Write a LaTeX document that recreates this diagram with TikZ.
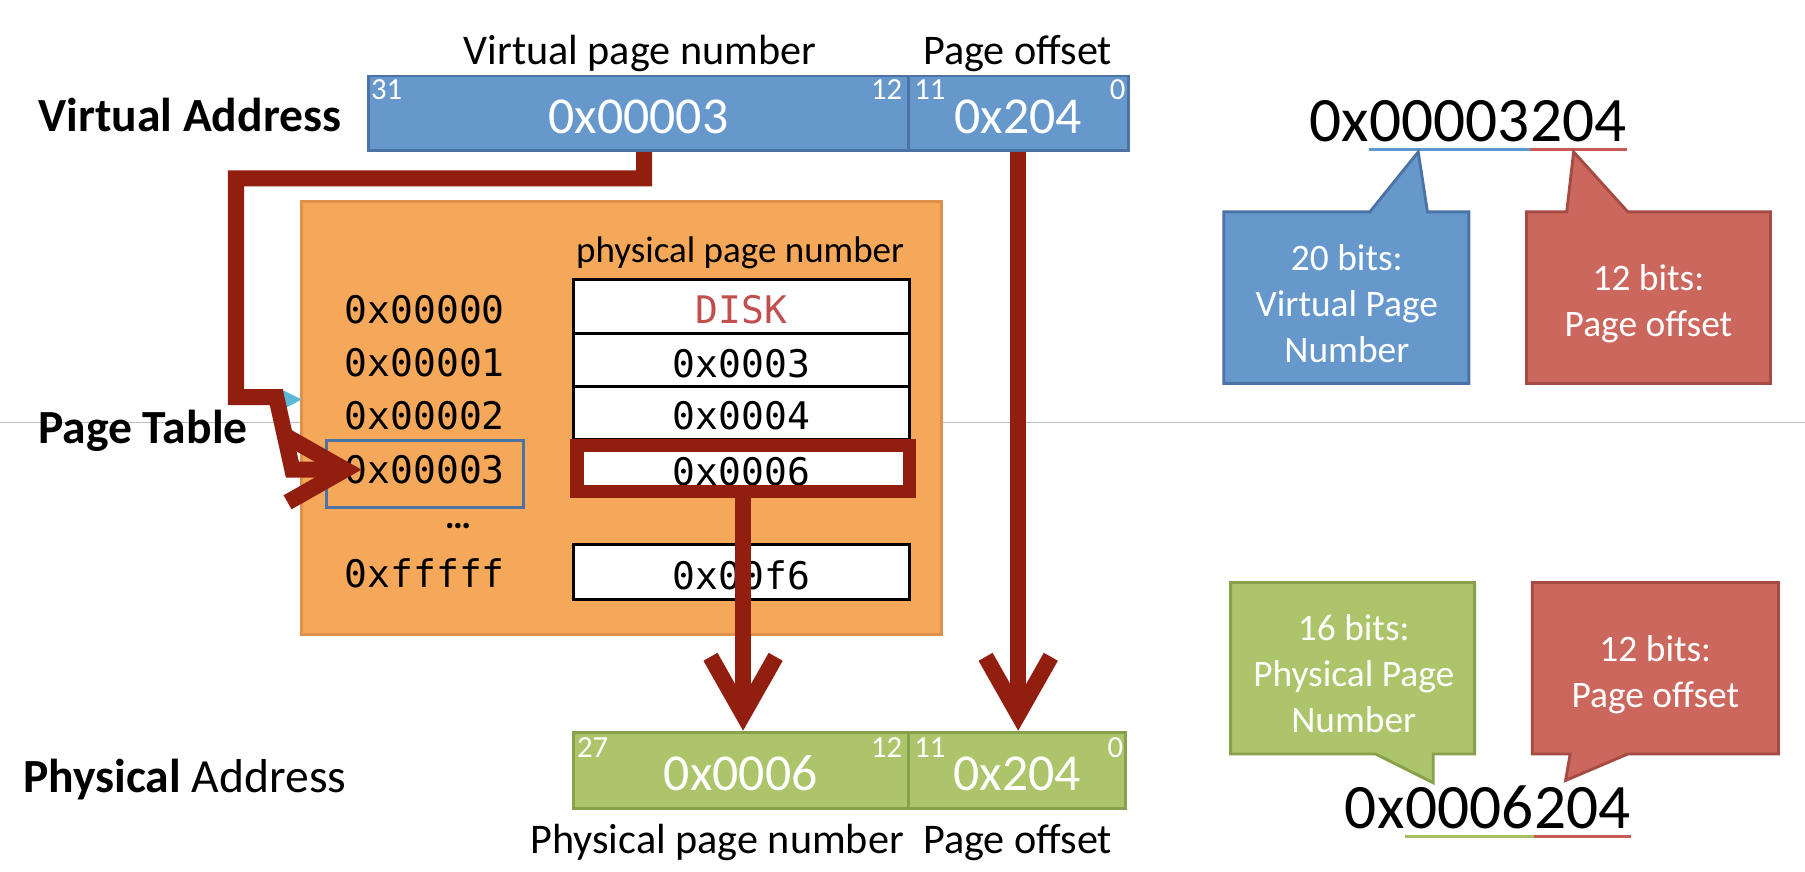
\documentclass[tikz,border=0pt]{standalone}
\usepackage{fontspec}
\setmainfont{Carlito}
\newfontfamily\monof{DejaVu Sans Mono}
\usetikzlibrary{fit,arrows.meta}
\definecolor{vblue}{RGB}{102,152,204}
\definecolor{vblueD}{RGB}{75,115,165}
\definecolor{ptor}{RGB}{245,168,90}
\definecolor{ptorD}{RGB}{222,145,75}
\definecolor{pgreen}{RGB}{172,196,106}
\definecolor{pgreenD}{RGB}{135,160,75}
\definecolor{cred}{RGB}{204,103,94}
\definecolor{credD}{RGB}{165,75,68}
\definecolor{arred}{RGB}{146,30,16}
\definecolor{diskc}{RGB}{192,80,77}
\definecolor{ulblue}{RGB}{100,150,210}
\definecolor{ulred}{RGB}{200,90,85}
\definecolor{ulgreen}{RGB}{165,190,95}
\definecolor{cyanart}{RGB}{90,185,215}
\definecolor{sepgray}{RGB}{190,190,190}
\begin{document}
\begin{tikzpicture}[x=0.6pt,y=-0.6pt,
  vfield/.style={draw=vblueD, fill=vblue, line width=1.5pt, inner sep=0pt},
  pfield/.style={draw=pgreenD, fill=pgreen, line width=1.5pt, inner sep=0pt},
  fieldtext/.style={text=white, font=\fontsize{27}{30}\selectfont, inner sep=0pt},
  bitnum/.style={text=white, font=\fontsize{16}{18}\selectfont, inner sep=0pt},
  caption/.style={font=\fontsize{22}{26}\selectfont, inner sep=0pt, anchor=base},
  sidelab/.style={font=\fontsize{24.8}{28}\selectfont, inner sep=0pt, anchor=base west},
  rowlab/.style={font=\monof\fontsize{19.8}{22}\selectfont, inner sep=0pt},
  cell/.style={draw=black, fill=white, line width=1.5pt, inner sep=0pt},
  celltext/.style={font=\monof\fontsize{19.8}{22}\selectfont, inner sep=0pt},
  wire/.style={draw=arred, line width=8.4pt, line join=miter, -{Straight Barb[length=30pt,width=34pt]}},
  bubble/.style 2 args={fill=#1, draw=#2, line width=1.5pt, line join=miter},
  callouttext/.style={text=white, align=center, font=\fontsize{19.5}{24}\selectfont, inner sep=0pt},
  bighex/.style={font=\fontsize{33}{36}\selectfont, inner sep=0pt, anchor=base west},
  ul/.style={line width=1.8pt},
  sep/.style={draw=sepgray, line width=0.9pt}
]
\useasboundingbox (0,0) rectangle (1568,757);
\fill[white] (0,0) rectangle (1568,757);

% separator line
\coordinate (gl) at (0,367);
\coordinate (gr) at (1568,367);
\draw[sep] (gl) -- (gr);

% page table
\node[fit={(262,175) (818,551)}, draw=ptorD, fill=ptor, line width=1.5pt, inner sep=0pt] (pt) {};
\node[font=\fontsize{19.3}{22}\selectfont, inner sep=0pt, anchor=base] (pph) at (643,228) {physical page number};
\node[cell, fit={(498,243) (790,290)}] (c0) {};
\node[cell, fit={(498,290) (790,336)}] (c1) {};
\node[cell, fit={(498,336) (790,382)}] (c2) {};
\node[cell, fit={(498,384) (790,430)}] (c3) {};
\node[cell, fit={(498,473) (790,521)}] (c4) {};
\node[celltext, text=diskc] (c0t) at ([yshift=-1.5pt]c0.center) {DISK};
\node[celltext] (c1t) at ([yshift=-1.5pt]c1.center) {0x0003};
\node[celltext] (c2t) at ([yshift=-1.5pt]c2.center) {0x0004};
\node[celltext] (c3t) at ([yshift=-1.5pt]c3.center) {0x0006};
\node[celltext] (c4t) at ([yshift=-1.5pt]c4.center) {0x00f6};
\node[rowlab] (l0) at (369,269) {0x00000};
\node[rowlab] (l1) at (369,315) {0x00001};
\node[rowlab] (l2) at (369,361) {0x00002};
\node[rowlab] (l3) at (369,408) {0x00003};
\node[font=\fontsize{19.3}{22}\selectfont\bfseries, inner sep=0pt, anchor=base] (ldots) at (398,459) {…};
\node[rowlab] (l4) at (369,498) {0xfffff};
\node[fit={(284,383) (455,441)}, draw=vblueD, line width=1.6pt, inner sep=0pt] (sel) {};

% virtual address
\node[vfield, fit={(320,66) (789,131)}] (vpn) {};
\node[vfield, fit={(789,66) (980,131)}] (voff) {};
\node[fieldtext] (vpnt) at ([yshift=-1.8pt]vpn.center) {0x00003};
\node[fieldtext] (vofft) at ([yshift=-1.8pt]voff.center) {0x204};
\node[bitnum, anchor=base west] (v31) at (322,86) {31};
\node[bitnum, anchor=base east] (v12) at (784,86) {12};
\node[bitnum, anchor=base west] (v11) at (794,86) {11};
\node[bitnum, anchor=base east] (v0) at (978,86) {0};
\node[caption] (cvpn) at (556,56) {Virtual page number};
\node[caption] (cvoff) at (884,56) {Page offset};

% physical address
\node[pfield, fit={(498,636) (789,702)}] (ppn) {};
\node[pfield, fit={(789,636) (978,702)}] (poff) {};
\node[fieldtext] (ppnt) at ([yshift=-1.8pt]ppn.center) {0x0006};
\node[fieldtext] (pofft) at ([yshift=-1.8pt]poff.center) {0x204};
\node[bitnum, anchor=base west] (p27) at (501,658) {27};
\node[bitnum, anchor=base east] (p12) at (784,658) {12};
\node[bitnum, anchor=base west] (p11) at (794,658) {11};
\node[bitnum, anchor=base east] (p0) at (976,658) {0};
\node[caption] (cppn) at (623,741) {Physical page number};
\node[caption] (cpoff) at (884,741) {Page offset};

% side labels
\node[sidelab] (lva) at (33,114) {\bfseries Virtual Address};
\node[sidelab] (lpt) at (33,385) {\bfseries Page Table};
\node[sidelab] (lpa) at (20,688) {\textbf{Physical} Address};

% small artifact triangle
\fill[cyanart] (244,338) -- (262,347) -- (247,355) -- cycle;

% highlight and arrows
\node[fit={(501,387) (790,427)}, draw=arred, line width=7.2pt, inner sep=0pt] (hl) {};
\coordinate (b1) at (205,155);
\coordinate (b2) at (240,345);
\coordinate (b3) at (254,408);
\coordinate (t1) at (314,408);
\draw[wire] ([xshift=3pt]vpn.south) |- (b1) |- (b2) -- (b3) -- (t1);
\draw[wire] (hl.south) -- (hl.south |- ppn.north);
\draw[wire] (voff.south) -- (voff.south |- poff.north);

% right side: virtual
\node[bighex] (h1a) at (1137,123) {0x};
\node[bighex] (h1b) at (h1a.base east) {00003};
\node[bighex] (h1c) at (h1b.base east) {204};
\draw[ul, ulblue] ([yshift=-4pt]h1b.base west) -- ([yshift=-4pt]h1b.base east);
\draw[ul, ulred] ([yshift=-4pt]h1c.base west) -- ([yshift=-4pt]h1c.base east);
\draw[bubble={vblue}{vblueD}] (1063,184) -- (1190,184) -- (1232,132) -- (1240,184) -- (1276,184) -- (1276,333) -- (1063,333) -- cycle;
\node[callouttext] (tb1) at (1170,264) {20 bits:\\Virtual Page\\Number};
\draw[bubble={cred}{credD}] (1326,184) -- (1361,184) -- (1367,132) -- (1414,184) -- (1538,184) -- (1538,333) -- (1326,333) -- cycle;
\node[callouttext] (tb2) at (1432,264) {12 bits:\\Page offset};

% right side: physical
\draw[bubble={pgreen}{pgreenD}] (1069,506) -- (1281,506) -- (1281,655) -- (1245,655) -- (1245,680) -- (1195,655) -- (1069,655) -- cycle;
\node[callouttext] (tb3) at (1176,585) {16 bits:\\Physical Page\\Number};
\draw[bubble={cred}{credD}] (1331,506) -- (1545,506) -- (1545,655) -- (1414,655) -- (1360,678) -- (1364,655) -- (1331,655) -- cycle;
\node[callouttext] (tb4) at (1438,586) {12 bits:\\Page offset};
\node[bighex] (h2a) at (1168,720) {0x};
\node[bighex] (h2b) at (h2a.base east) {0006};
\node[bighex] (h2c) at (h2b.base east) {204};
\draw[ul, ulgreen] ([yshift=-4pt]h2b.base west) -- ([yshift=-4pt]h2b.base east);
\draw[ul, ulred] ([yshift=-4pt]h2c.base west) -- ([yshift=-4pt]h2c.base east);
\end{tikzpicture}
\end{document}
